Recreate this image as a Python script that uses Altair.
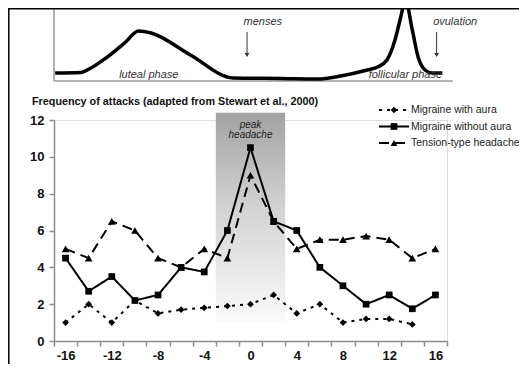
import altair as alt
import pandas as pd

# ---------------- data ----------------
days = [-16, -14, -12, -10, -8, -6, -4, -2, 0, 2, 4, 6, 8, 10, 12, 14, 16]
series_names = ["Migraine with aura", "Migraine without aura", "Tension-type headache"]
with_aura = [1.0, 2.0, 1.0, 2.2, 1.5, 1.7, 1.8, 1.9, 2.0, 2.5, 1.5, 2.0, 1.0, 1.2, 1.2, 0.9, None]
without_aura = [4.5, 2.7, 3.5, 2.2, 2.5, 4.0, 3.75, 6.0, 10.5, 6.5, 6.0, 4.0, 3.0, 2.0, 2.5, 1.75, 2.5]
tension = [5.0, 4.5, 6.5, 6.0, 4.5, 4.0, 5.0, 4.5, 9.0, 6.5, 5.0, 5.5, 5.5, 5.7, 5.5, 4.5, 5.0]

series_shapes = ["diamond", "square", "triangle-up"]
series_dashes = [[3, 5], [1, 0], [10, 6]]

x_tick_values = list(range(-17, 18))
y_tick_values = [0, 2, 4, 6, 8, 10, 12]
title_text = "Frequency of attacks (adapted from Stewart et al., 2000)"

# schematic hormone curve (top panel), arbitrary level units
hormone_day = [-16.9, -14.7, -13.8, -12.5, -10.8, -9.7, -8.6, -5.2, -1.5, 2.6, 5.8, 7.8,
               10.1, 11.0, 11.8, 12.5, 13.0, 13.4, 14.0, 14.5, 15.1, 15.7, 16.6]
hormone_level = [8, 8.5, 13, 23, 39, 50, 48, 26, 3, 2.5, 2, 5,
                 11, 14, 21, 41, 64, 81, 51, 24, 11, 8, 8]

phase_labels = ["luteal phase", "follicular phase"]
phase_day = [-8.8, 13.4]
phase_level = [6, 6]

event_labels = ["menses", "ovulation"]
event_text_day = [-0.6, 15.8]
event_text_level = [59, 59]
event_arrow_day = [-0.3, 16.1]
arrow_top = [49, 49]
arrow_bottom = [26, 26]

peak_x = [-3]
peak_x2 = [3]
peak_y = [1.0]
peak_y2 = [12.4]

FONT = "Liberation Sans"
AXIS_GRAY = "#8c8c8c"

# ---------------- tables ----------------
rows = []
for name, vals in zip(series_names, [with_aura, without_aura, tension]):
    for d, v in zip(days, vals):
        if v is not None:
            rows.append({"series": name, "day": d, "value": v})
df = pd.DataFrame(rows)

hdf = pd.DataFrame({"day": hormone_day, "level": hormone_level})
phase_df = pd.DataFrame({"label": phase_labels, "day": phase_day, "level": phase_level})
event_df = pd.DataFrame({"label": event_labels, "tday": event_text_day, "tlevel": event_text_level,
                         "aday": event_arrow_day, "top": arrow_top, "bottom": arrow_bottom})
peak_df = pd.DataFrame({"x": peak_x, "x2": peak_x2, "y": peak_y, "y2": peak_y2,
                        "label": [["peak", "headache"]], "cx": [0], "cy": [11.72]})
vaxis_df = pd.DataFrame({"day": [-17], "l0": [0], "l1": [73]})
haxis_df = pd.DataFrame({"d0": [-17], "d1": [17.5], "level": [0]})
title_df = pd.DataFrame({"t": [title_text]})
legend_df = pd.DataFrame({"series": series_names})

# ---------------- scales / axes ----------------
xscale = alt.Scale(domain=[-17, 17], nice=False, zero=False)
yscale = alt.Scale(domain=[0, 12], nice=False, zero=True)
hscale = alt.Scale(domain=[0, 73], range=[-39, -112], nice=False, zero=False)
lscale = alt.Scale(type="point", domain=series_names, range=[-10, 23], padding=0)
dash_scale = alt.Scale(domain=series_names, range=series_dashes)
shape_scale = alt.Scale(domain=series_names, range=series_shapes)

xaxis = alt.Axis(
    values=x_tick_values,
    labelExpr="datum.value % 4 == 0 ? '' + datum.value : ''",
    tickColor={"condition": {"test": "datum.value % 2 == 0", "value": "transparent"}, "value": AXIS_GRAY},
    grid=False, title=None, labelOverlap=False, labelFlush=False, labelBound=False,
    tickSize=5, tickWidth=1.5, domainColor=AXIS_GRAY, domainWidth=1.5,
    labelFont=FONT, labelFontSize=13, labelFontWeight="bold", labelColor="#111",
    labelPadding=3,
)
yaxis = alt.Axis(
    values=y_tick_values, grid=False, title=None, labelOverlap=False,
    tickSize=5, tickWidth=1.5, tickColor=AXIS_GRAY, domainColor=AXIS_GRAY, domainWidth=1.5,
    labelFont=FONT, labelFontSize=13, labelFontWeight="bold", labelColor="#111",
    labelPadding=5,
)

def X(field):
    return alt.X(field, scale=xscale, axis=xaxis)

def Y(field):
    return alt.Y(field, scale=yscale, axis=yaxis)

def H(field):
    return alt.Y(field, scale=hscale, axis=None)

# ---------------- main panel ----------------
gradient = alt.LinearGradient(
    gradient="linear",
    stops=[alt.GradientStop(color="#a2a2a2", offset=0),
           alt.GradientStop(color="#d2d2d2", offset=0.45),
           alt.GradientStop(color="#fbfbfb", offset=1)],
    x1=0, x2=0, y1=0, y2=1,
)
peak_rect = alt.Chart(peak_df).mark_rect(color=gradient).encode(
    x=X("x:Q"), x2="x2:Q", y=Y("y2:Q"), y2="y:Q",
)
peak_text = alt.Chart(peak_df).mark_text(
    font=FONT, fontSize=10, fontStyle="italic", color="#222", lineHeight=10, baseline="middle"
).encode(x=X("cx:Q"), y=Y("cy:Q"), text="label")

lines = alt.Chart(df).mark_line(color="black", strokeWidth=2).encode(
    x=X("day:Q"), y=Y("value:Q"),
    strokeDash=alt.StrokeDash("series:N", scale=dash_scale, legend=None),
    detail="series:N",
)

def pts(name, shape, size):
    return alt.Chart(df).transform_filter(alt.datum.series == name).mark_point(
        filled=True, color="black", shape=shape, size=size, opacity=1
    ).encode(x=X("day:Q"), y=Y("value:Q"))

title_mark = alt.Chart(title_df).mark_text(
    font=FONT, fontSize=10.8, fontWeight="bold", color="#111", align="left", baseline="middle"
).encode(x=alt.value(-22), y=alt.value(-18), text="t:N")

main = alt.layer(
    peak_rect, lines,
    pts("Migraine with aura", "diamond", 45),
    pts("Migraine without aura", "square", 45),
    pts("Tension-type headache", "triangle-up", 60),
    peak_text, title_mark,
)

# ---------------- legend (rows placed by a point scale) ----------------
leg_line = alt.Chart(legend_df).mark_rule(color="black", strokeWidth=2).encode(
    x=alt.value(325), x2=alt.value(355),
    y=alt.Y("series:N", scale=lscale, axis=None),
    strokeDash=alt.StrokeDash("series:N", scale=dash_scale, legend=None),
)
leg_pt = alt.Chart(legend_df).mark_point(filled=True, color="black", size=45, opacity=1).encode(
    x=alt.value(340),
    y=alt.Y("series:N", scale=lscale, axis=None),
    shape=alt.Shape("series:N", scale=shape_scale, legend=None),
)
leg_text = alt.Chart(legend_df).mark_text(
    font=FONT, fontSize=10.5, color="#222", align="left", baseline="middle"
).encode(
    x=alt.value(357),
    y=alt.Y("series:N", scale=lscale, axis=None),
    text="series:N",
)
legend = alt.layer(leg_line, leg_pt, leg_text)

# ---------------- top (hormone) panel ----------------
curve = alt.Chart(hdf).mark_line(color="black", strokeWidth=3.5, interpolate="monotone").encode(
    x=X("day:Q"), y=H("level:Q")
)
vax = alt.Chart(vaxis_df).mark_rule(color="#9a9a9a", strokeWidth=1.5).encode(
    x=X("day:Q"), y=H("l0:Q"), y2="l1:Q"
)
hax = alt.Chart(haxis_df).mark_rule(color="#9a9a9a", strokeWidth=1.5).encode(
    x=X("d0:Q"), x2="d1:Q", y=H("level:Q")
)
phase_text = alt.Chart(phase_df).mark_text(
    font=FONT, fontSize=11, fontStyle="italic", color="#333", align="center", baseline="middle"
).encode(x=X("day:Q"), y=H("level:Q"), text="label:N")
event_text = alt.Chart(event_df).mark_text(
    font=FONT, fontSize=11, fontStyle="italic", color="#333", align="left", baseline="middle"
).encode(x=X("tday:Q"), y=H("tlevel:Q"), text="label:N")
arrow_line = alt.Chart(event_df).mark_rule(color="#333", strokeWidth=1).encode(
    x=X("aday:Q"), y=H("top:Q"), y2="bottom:Q"
)
arrow_head = alt.Chart(event_df).mark_point(
    shape="triangle-down", filled=True, color="#333", size=22, opacity=1
).encode(x=X("aday:Q"), y=H("bottom:Q"))

frame_top = alt.Chart(title_df).mark_rule(color="black", strokeWidth=1.5).encode(
    x=alt.value(-46), x2=alt.value(480), y=alt.value(-111.2)
)
frame_left = alt.Chart(title_df).mark_rule(color="black", strokeWidth=1.5).encode(
    x=alt.value(-45.2), y=alt.value(-112), y2=alt.value(260)
)

top = alt.layer(vax, hax, curve, phase_text, event_text, arrow_line, arrow_head, frame_top, frame_left)

chart = alt.layer(main, top, legend).resolve_scale(y="independent").properties(
    width=393, height=221,
    autosize=alt.AutoSizeParams(type="none"),
    padding={"left": 46, "top": 112, "right": 72, "bottom": 23},
).configure_view(stroke=None).configure(background="white")

chart.save("out.html", embed_options={"renderer": "svg", "actions": False})
